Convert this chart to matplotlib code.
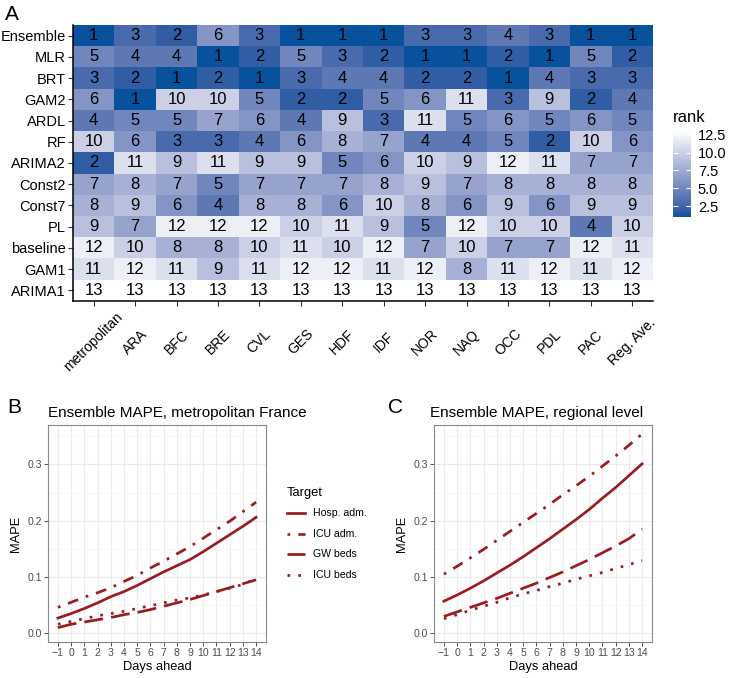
import numpy as np
import matplotlib
matplotlib.use('Agg')
import matplotlib.pyplot as plt
from matplotlib.colors import ListedColormap, to_rgb
from matplotlib.lines import Line2D

plt.rcParams['font.family'] = ['Liberation Sans', 'DejaVu Sans']

# ---------------- data ----------------
models = ['Ensemble', 'MLR', 'BRT', 'GAM2', 'ARDL', 'RF', 'ARIMA2', 'Const2',
          'Const7', 'PL', 'baseline', 'GAM1', 'ARIMA1']
regions = ['metropolitan', 'ARA', 'BFC', 'BRE', 'CVL', 'GES', 'HDF', 'IDF',
           'NOR', 'NAQ', 'OCC', 'PDL', 'PAC', 'Reg. Ave.']
rank_Ensemble = [1, 3, 2, 6, 3, 1, 1, 1, 3, 3, 4, 3, 1, 1]
rank_MLR      = [5, 4, 4, 1, 2, 5, 3, 2, 1, 1, 2, 1, 5, 2]
rank_BRT      = [3, 2, 1, 2, 1, 3, 4, 4, 2, 2, 1, 4, 3, 3]
rank_GAM2     = [6, 1, 10, 10, 5, 2, 2, 5, 6, 11, 3, 9, 2, 4]
rank_ARDL     = [4, 5, 5, 7, 6, 4, 9, 3, 11, 5, 6, 5, 6, 5]
rank_RF       = [10, 6, 3, 3, 4, 6, 8, 7, 4, 4, 5, 2, 10, 6]
rank_ARIMA2   = [2, 11, 9, 11, 9, 9, 5, 6, 10, 9, 12, 11, 7, 7]
rank_Const2   = [7, 8, 7, 5, 7, 7, 7, 8, 9, 7, 8, 8, 8, 8]
rank_Const7   = [8, 9, 6, 4, 8, 8, 6, 10, 8, 6, 9, 6, 9, 9]
rank_PL       = [9, 7, 12, 12, 12, 10, 11, 9, 5, 12, 10, 10, 4, 10]
rank_baseline = [12, 10, 8, 8, 10, 11, 10, 12, 7, 10, 7, 7, 12, 11]
rank_GAM1     = [11, 12, 11, 9, 11, 12, 12, 11, 12, 8, 11, 12, 11, 12]
rank_ARIMA1   = [13, 13, 13, 13, 13, 13, 13, 13, 13, 13, 13, 13, 13, 13]

days = list(range(-1, 15))
day_labels = ['\u22121'] + [str(d) for d in range(0, 15)]
targets = ['Hosp. adm.', 'ICU adm.', 'GW beds', 'ICU beds']

metro_hosp = [0.027, 0.035, 0.044, 0.054, 0.065, 0.074, 0.085, 0.097, 0.109,
              0.120, 0.131, 0.145, 0.160, 0.175, 0.190, 0.206]
metro_icu_adm = [0.046, 0.055, 0.064, 0.072, 0.081, 0.092, 0.103, 0.116, 0.128,
                 0.141, 0.154, 0.169, 0.184, 0.199, 0.216, 0.233]
metro_gw_beds = [0.010, 0.016, 0.020, 0.024, 0.028, 0.033, 0.037, 0.042, 0.048,
                 0.054, 0.060, 0.067, 0.074, 0.081, 0.088, 0.095]
metro_icu_beds = [0.016, 0.021, 0.026, 0.031, 0.035, 0.039, 0.044, 0.049, 0.054,
                  0.059, 0.063, 0.068, 0.074, 0.080, 0.087, 0.097]

reg_hosp = [0.057, 0.068, 0.080, 0.093, 0.107, 0.121, 0.136, 0.152, 0.168,
            0.185, 0.202, 0.220, 0.240, 0.259, 0.280, 0.301]
reg_icu_adm = [0.105, 0.119, 0.134, 0.149, 0.165, 0.181, 0.197, 0.213, 0.229,
               0.246, 0.262, 0.279, 0.297, 0.315, 0.334, 0.354]
reg_gw_beds = [0.030, 0.038, 0.046, 0.054, 0.062, 0.071, 0.080, 0.089, 0.099,
               0.109, 0.120, 0.131, 0.143, 0.155, 0.168, 0.185]
reg_icu_beds = [0.026, 0.033, 0.041, 0.048, 0.055, 0.063, 0.070, 0.076, 0.083,
                0.089, 0.096, 0.102, 0.108, 0.115, 0.122, 0.129]

ranks = np.array([rank_Ensemble, rank_MLR, rank_BRT, rank_GAM2, rank_ARDL,
                  rank_RF, rank_ARIMA2, rank_Const2, rank_Const7, rank_PL,
                  rank_baseline, rank_GAM1, rank_ARIMA1])

# ---------------- colour map (Lab interpolation, like ggplot) ----------------
def srgb_to_lab(c):
    c = np.asarray(c, float)
    lin = np.where(c <= 0.04045, c / 12.92, ((c + 0.055) / 1.055) ** 2.4)
    M = np.array([[0.4124, 0.3576, 0.1805],
                  [0.2126, 0.7152, 0.0722],
                  [0.0193, 0.1192, 0.9505]])
    xyz = M @ lin
    wp = np.array([0.95047, 1.0, 1.08883])
    t = xyz / wp
    f = np.where(t > (6 / 29) ** 3, np.cbrt(t), t / (3 * (6 / 29) ** 2) + 4 / 29)
    return np.array([116 * f[1] - 16, 500 * (f[0] - f[1]), 200 * (f[1] - f[2])])

def lab_to_srgb(lab):
    L, a, b = lab
    fy = (L + 16) / 116
    fx = fy + a / 500
    fz = fy - b / 200
    def finv(t):
        return np.where(t > 6 / 29, t ** 3, 3 * (6 / 29) ** 2 * (t - 4 / 29))
    wp = np.array([0.95047, 1.0, 1.08883])
    xyz = wp * np.array([finv(fx), finv(fy), finv(fz)])
    Minv = np.array([[3.2406, -1.5372, -0.4986],
                     [-0.9689, 1.8758, 0.0415],
                     [0.0557, -0.2040, 1.0570]])
    lin = Minv @ xyz
    c = np.where(lin <= 0.0031308, 12.92 * lin, 1.055 * np.clip(lin, 0, None) ** (1 / 2.4) - 0.055)
    return np.clip(c, 0, 1)

lab_lo = srgb_to_lab(to_rgb('#08519C'))
lab_hi = srgb_to_lab(to_rgb('#FFFFFF'))
cols = [lab_to_srgb(lab_lo + (lab_hi - lab_lo) * t) for t in np.linspace(0, 1, 256)]
cmap = ListedColormap(cols)

# ---------------- figure ----------------
W, H = 729, 678
fig = plt.figure(figsize=(W / 100, H / 100), dpi=100)

def ax_px(x0, y0, x1, y1):
    return fig.add_axes([x0 / W, 1 - y1 / H, (x1 - x0) / W, (y1 - y0) / H])

def ftext(x, y, s, **kw):
    return fig.text(x / W, 1 - y / H, s, **kw)

# ---- Panel A: heatmap ----
axA = ax_px(73, 25, 653, 301)
im = axA.imshow(ranks, cmap=cmap, vmin=1, vmax=13, aspect='auto',
                interpolation='nearest')
for i in range(ranks.shape[0]):
    for j in range(ranks.shape[1]):
        axA.text(j, i, str(ranks[i, j]), ha='center', va='center',
                 fontsize=12, color='black')
axA.set_xlim(-0.5, len(regions) - 0.5)
axA.set_ylim(len(models) - 0.5, -0.5)
axA.set_xticks(range(len(regions)))
axA.set_xticklabels(regions, rotation=45, ha='center', va='center',
                    rotation_mode='anchor', fontsize=10)
axA.set_yticks(range(len(models)))
axA.set_yticklabels(models, fontsize=10.5)
for s in ['top', 'right']:
    axA.spines[s].set_visible(False)
for s in ['left', 'bottom']:
    axA.spines[s].set_color('black')
    axA.spines[s].set_linewidth(1.1)
axA.tick_params(axis='x', length=3.6, width=0.8, color='#333333', pad=26)
axA.tick_params(axis='y', length=3.6, width=0.8, color='#333333', pad=1.5)

cax = ax_px(673, 131, 691, 217)
cb = fig.colorbar(im, cax=cax)
cb.outline.set_visible(False)
cb.set_ticks([2.5, 5.0, 7.5, 10.0, 12.5])
cb.set_ticklabels(['2.5', '5.0', '7.5', '10.0', '12.5'])
cax.minorticks_off()
cax.tick_params(axis='y', direction='in', color='white', length=3.6, width=0.8,
                left=True, right=True, labelleft=False, labelright=True,
                labelsize=10.5, labelcolor='black', pad=5)
ftext(673, 122, 'rank', fontsize=12, va='baseline', ha='left')

ftext(5, 20, 'A', fontsize=15, va='baseline', ha='left')

# ---- Panels B and C ----
red = '#9A1C20'
lw = 1.95
styles = ['-', (0, (1, 3, 4, 3)), (0, (7, 3)), (0, (1, 3))]

def style_panel(ax):
    ax.set_xlim(-1.75, 14.75)
    ax.set_ylim(-0.0155, 0.370)
    ax.set_xticks(days)
    ax.set_xticklabels(day_labels)
    ax.set_yticks([0.0, 0.1, 0.2, 0.3])
    ax.set_yticklabels(['0.0', '0.1', '0.2', '0.3'])
    ax.set_yticks([0.05, 0.15, 0.25, 0.35], minor=True)
    ax.set_xticks([], minor=True)
    ax.grid(which='major', color='#EBEBEB', lw=0.8)
    ax.grid(which='minor', axis='y', color='#F3F3F3', lw=0.5)
    ax.set_axisbelow(True)
    for s in ax.spines.values():
        s.set_color('#8A8A8A')
        s.set_linewidth(0.8)
    ax.tick_params(which='major', length=2.75, width=0.6, color='#333333',
                   labelsize=7.6, labelcolor='#4D4D4D', pad=1.5)
    ax.tick_params(which='minor', length=0)

axB = ax_px(48, 425, 266, 642)
for vals, st in zip([metro_hosp, metro_icu_adm, metro_gw_beds, metro_icu_beds], styles):
    axB.plot(days, vals, color=red, lw=lw, linestyle=st)
style_panel(axB)

axC = ax_px(434, 425, 652, 642)
for vals, st in zip([reg_hosp, reg_icu_adm, reg_gw_beds, reg_icu_beds], styles):
    axC.plot(days, vals, color=red, lw=lw, linestyle=st)
style_panel(axC)

# titles, panel letters, axis titles
ftext(7, 413, 'B', fontsize=15, va='baseline', ha='left')
ftext(48, 417, 'Ensemble MAPE, metropolitan France', fontsize=11,
      va='baseline', ha='left')
ftext(388, 413, 'C', fontsize=15, va='baseline', ha='left')
ftext(430, 417, 'Ensemble MAPE, regional level', fontsize=11,
      va='baseline', ha='left')
ftext(16, 533.5, 'MAPE', fontsize=9.3, rotation=90, ha='center', va='center')
ftext(402, 533.5, 'MAPE', fontsize=9.3, rotation=90, ha='center', va='center')
ftext(157, 667, 'Days ahead', fontsize=9.3, ha='center', va='center')
ftext(543, 667, 'Days ahead', fontsize=9.3, ha='center', va='center')

# legend
ftext(287, 496, 'Target', fontsize=9.3, ha='left', va='baseline')
for k, (lab, st) in enumerate(zip(targets, styles)):
    y = [513, 534, 554, 575][k]
    fig.add_artist(Line2D([287 / W, 305 / W], [1 - y / H, 1 - y / H],
                          transform=fig.transFigure, color=red, lw=lw,
                          linestyle=st))
    ftext(313, y, lab, fontsize=7.6, ha='left', va='center')

fig.savefig('out.png', dpi=100)
